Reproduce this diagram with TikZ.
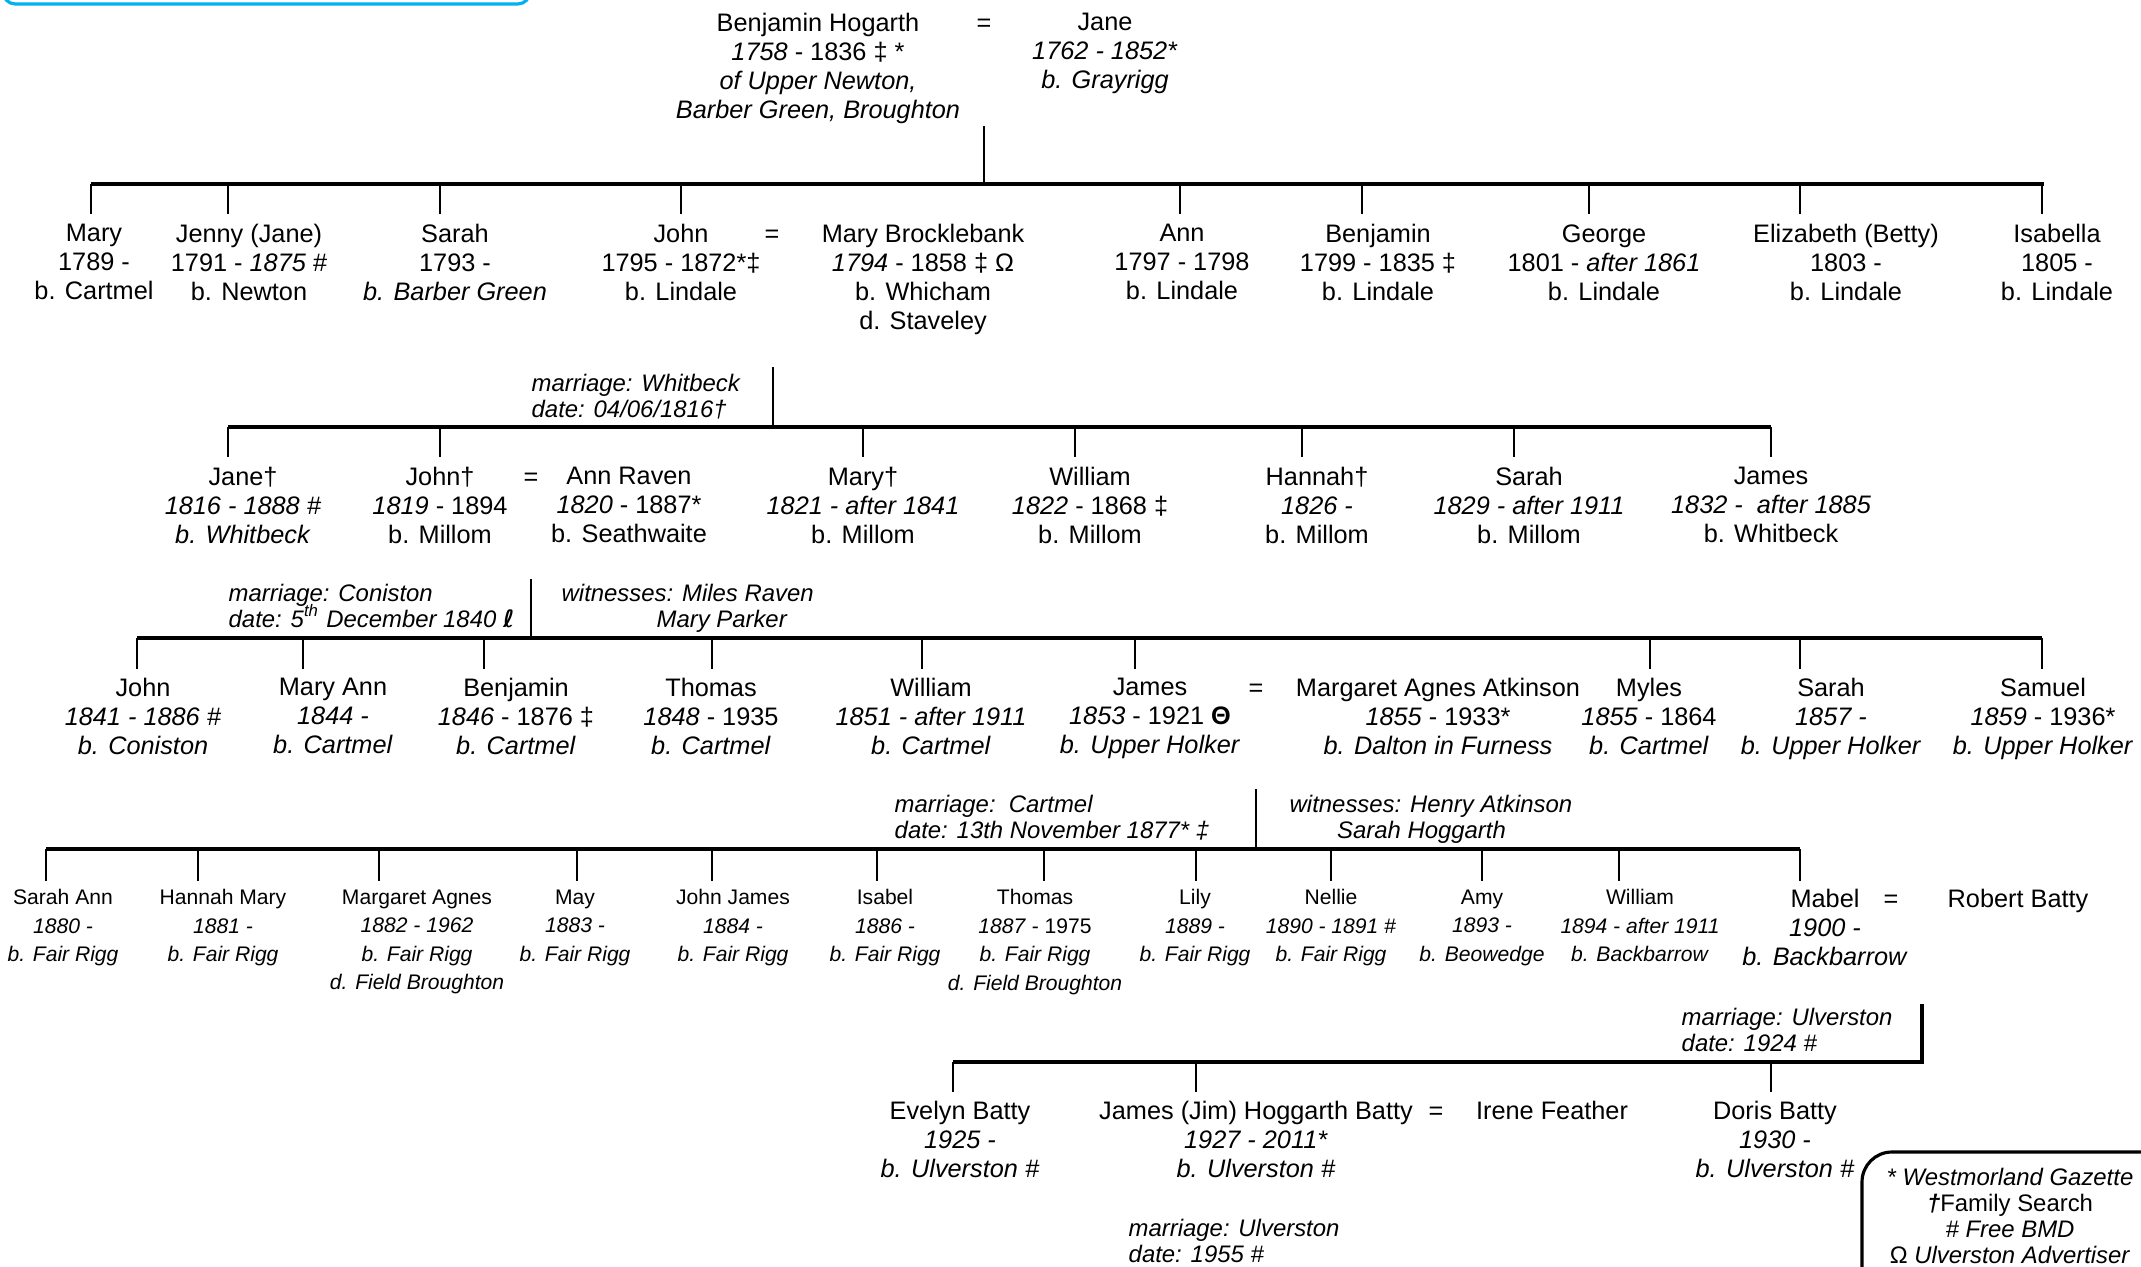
\documentclass[tikz,border=0pt]{standalone}
\usepackage{fontspec}
\setmainfont{Liberation Sans}
\newfontfamily\symfont{DejaVu Sans}
\usepackage{tikz}
\definecolor{boxblue}{RGB}{0,176,240}

\begin{document}
\begin{tikzpicture}
    [x=0.1mm,y=-0.1mm,
     person/.style={align=center,anchor=north,yshift=5.2pt,inner sep=0pt,font=\fontsize{7.2}{8.25}\selectfont},
     sign/.style={anchor=base,inner sep=0pt,font=\fontsize{7.2}{8.25}\selectfont},
     kid/.style={person,yshift=-0.9pt,font=\fontsize{6}{8.1}\selectfont},
     note/.style={align=left,anchor=north west,yshift=4.9pt,inner sep=0pt,font=\fontsize{6.8}{7.3}\selectfont\itshape},
     legend/.style={person,yshift=-0.3pt,font=\fontsize{6.8}{7.4}\selectfont},
     bar/.style={line width=1.1pt},
     drop/.style={line width=0.75pt}]
    \useasboundingbox (0,0) rectangle (2141,1266);
    \clip (0,0) rectangle (2141,1266);
    \draw[boxblue,line width=0.9pt,rounded corners=3.5pt] (3,-60) rectangle (530,4);
    % first generation
    \node[person] (benj) at (818,31) {Benjamin Hogarth\\\textit{1758} - 1836 ‡ *\\\textit{of Upper Newton,}\\\textit{Barber Green, Broughton}};
    \node[sign] (eq1) at (984,31) {=};
    \node[person] (jane) at (1105,31) {Jane\\\textit{1762 - 1852*}\\\textit{b. Grayrigg}};
    \coordinate (m1) at (984,126);
    \coordinate (bar1L) at (91,184);
    \coordinate (bar1R) at (2044,184);
    \draw[drop] (m1) -- (m1 |- bar1L);
    \draw[bar] (bar1L) -- (bar1R);
    \foreach \x [count=\i] in {91,228,440,681,1180,1362,1589,1800,2042}
      {\coordinate (d1-\i) at (\x,214); \draw[drop] (d1-\i |- bar1L) -- (d1-\i);}
    % second generation
    \node[person] (mary) at (94,242) {Mary\\1789 -\\b. Cartmel};
    \node[person] (jenny) at (249,242) {Jenny (Jane)\\1791 - \textit{1875} \#\\b. Newton};
    \node[person] (sarah) at (455,242) {Sarah\\1793 -\\\textit{b. Barber Green}};
    \node[person] (john) at (681,242) {John\\1795 - 1872*‡\\b. Lindale};
    \node[sign] (eq2) at (772,242) {=};
    \node[person] (maryb) at (923,242) {Mary Brocklebank\\\textit{1794} - 1858 ‡ Ω\\b. Whicham\\d. Staveley};
    \node[person] (ann) at (1182,242) {Ann\\1797 - 1798\\b. Lindale};
    \node[person] (benjamin) at (1378,242) {Benjamin\\1799 - 1835 ‡\\b. Lindale};
    \node[person] (george) at (1604,242) {George\\1801 - \textit{after 1861}\\b. Lindale};
    \node[person] (betty) at (1846,242) {Elizabeth (Betty)\\1803 -\\b. Lindale};
    \node[person] (isabella) at (2057,242) {Isabella\\1805 -\\b. Lindale};
    \coordinate (m2) at (773,367);
    \coordinate (bar2L) at (228,427);
    \coordinate (bar2R) at (1771,427);
    \node[note] (wed1) at (531,391) {marriage: Whitbeck\\date: 04/06/1816†};
    \draw[drop] (m2) -- (m2 |- bar2L);
    \draw[bar] (bar2L) -- (bar2R);
    \foreach \x [count=\i] in {228,440,863,1075,1302,1514,1771}
      {\coordinate (d2-\i) at (\x,457); \draw[drop] (d2-\i |- bar2L) -- (d2-\i);}
    % third generation
    \node[person] (jane2) at (243,485) {Jane†\\\textit{1816 - 1888 \#}\\\textit{b. Whitbeck}};
    \node[person] (john2) at (440,485) {John†\\\textit{1819} - 1894\\b. Millom};
    \node[sign] (eq3) at (531,485) {=};
    \node[person] (annr) at (629,485) {Ann Raven\\\textit{1820} - 1887*\\b. Seathwaite};
    \node[person] (mary2) at (863,485) {Mary†\\\textit{1821 - after 1841}\\b. Millom};
    \node[person] (william2) at (1090,485) {William\\\textit{1822} - 1868 ‡\\b. Millom};
    \node[person] (hannah2) at (1317,485) {Hannah†\\\textit{1826 -}\\b. Millom};
    \node[person] (sarah2) at (1529,485) {Sarah\\\textit{1829 - after 1911}\\b. Millom};
    \node[person] (james2) at (1771,485) {James\\\textit{1832 -\ \ after 1885}\\b. Whitbeck};
    \coordinate (m3) at (531,579);
    \coordinate (bar3L) at (137,638);
    \coordinate (bar3R) at (2042,638);
    \node[note] (wed2) at (228,601) {marriage: Coniston\\date: 5\smash{\textsuperscript{th}} December 1840 {\symfont\bfseries ℓ}};
    \node[note] (wit2) at (561,601) {witnesses: Miles Raven\\\hspace*{27pt}Mary Parker};
    \draw[drop] (m3) -- (m3 |- bar3L);
    \draw[bar] (bar3L) -- (bar3R);
    \foreach \x [count=\i] in {137,303,484,712,922,1135,1650,1800,2042}
      {\coordinate (d3-\i) at (\x,669); \draw[drop] (d3-\i |- bar3L) -- (d3-\i);}
    % fourth generation
    \node[person] (john3) at (143,696) {John\\\textit{1841 - 1886 \#}\\\textit{b. Coniston}};
    \node[person] (maryann3) at (333,696) {Mary Ann\\\textit{1844 -}\\\textit{b. Cartmel}};
    \node[person] (benjamin3) at (516,696) {Benjamin\\\textit{1846} - 1876 ‡\\\textit{b. Cartmel}};
    \node[person] (thomas3) at (711,696) {Thomas\\\textit{1848} - 1935\\\textit{b. Cartmel}};
    \node[person] (william3) at (931,696) {William\\\textit{1851 - after 1911}\\\textit{b. Cartmel}};
    \node[person] (james3) at (1150,696) {James\\\textit{1853} - 1921 \textbf{Θ}\\\textit{b. Upper Holker}};
    \node[sign] (eq4) at (1256,696) {=};
    \node[person] (margaret3) at (1438,696) {Margaret Agnes Atkinson\\\textit{1855} - 1933*\\\textit{b. Dalton in Furness}};
    \node[person] (myles3) at (1649,696) {Myles\\\textit{1855} - 1864\\\textit{b. Cartmel}};
    \node[person] (sarah3) at (1831,696) {Sarah\\\textit{1857 -}\\\textit{b. Upper Holker}};
    \node[person] (samuel3) at (2043,696) {Samuel\\\textit{1859} - 1936*\\\textit{b. Upper Holker}};
    \coordinate (m4) at (1256,789);
    \coordinate (bar4L) at (46,849);
    \coordinate (bar4R) at (1800,849);
    \node[note] (wed3) at (894,812) {marriage:\ \ Cartmel\\date: 13th November 1877* ‡};
    \node[note] (wit3) at (1289,812) {witnesses: Henry Atkinson\\\hspace*{13.5pt}Sarah Hoggarth};
    \draw[drop] (m4) -- (m4 |- bar4L);
    \draw[bar] (bar4L) -- (bar4R);
    \foreach \x [count=\i] in {46,198,379,577,712,877,1044,1196,1331,1482,1619,1800}
      {\coordinate (d4-\i) at (\x,881); \draw[drop] (d4-\i |- bar4L) -- (d4-\i);}
    % fifth generation
    \node[kid] (sarahann4) at (63,904) {Sarah Ann\\\textit{1880 -}\\\textit{b. Fair Rigg}};
    \node[kid] (hannah4) at (223,904) {Hannah Mary\\\textit{1881 -}\\\textit{b. Fair Rigg}};
    \node[kid] (margaret4) at (417,904) {Margaret Agnes\\\textit{1882 - 1962}\\\textit{b. Fair Rigg}\\\textit{d. Field Broughton}};
    \node[kid] (may4) at (575,904) {May\\\textit{1883 -}\\\textit{b. Fair Rigg}};
    \node[kid] (johnjames4) at (733,904) {John James\\\textit{1884 -}\\\textit{b. Fair Rigg}};
    \node[kid] (isabel4) at (885,904) {Isabel\\\textit{1886 -}\\\textit{b. Fair Rigg}};
    \node[kid] (thomas4) at (1035,904) {Thomas\\\textit{1887} - 1975\\\textit{b. Fair Rigg}\\\textit{d. Field Broughton}};
    \node[kid] (lily4) at (1195,904) {Lily\\\textit{1889 -}\\\textit{b. Fair Rigg}};
    \node[kid] (nellie4) at (1331,904) {Nellie\\\textit{1890 - 1891 \#}\\\textit{b. Fair Rigg}};
    \node[kid] (amy4) at (1482,904) {Amy\\\textit{1893 -}\\\textit{b. Beowedge}};
    \node[kid] (william4) at (1640,904) {William\\\textit{1894 - after 1911}\\\textit{b. Backbarrow}};
    \node[person] (mabel4) at (1825,907) {Mabel\\\textit{1900 -}\\\textit{b. Backbarrow}};
    \node[sign] (eq5) at (1891,907) {=};
    \node[sign] (robert4) at (2018,907) {Robert Batty};
    \coordinate (m5) at (1922,1004);
    \coordinate (bar5L) at (953,1062);
    \coordinate (bar5R) at (1922,1062);
    \node[note] (wed4) at (1681,1025) {marriage: Ulverston\\date: 1924 \#};
    \draw[bar] (m5) -- (bar5R) -- (bar5L);
    \foreach \x [count=\i] in {953,1196,1771}
      {\coordinate (d5-\i) at (\x,1092); \draw[drop] (d5-\i |- bar5L) -- (d5-\i);}
    % sixth generation
    \node[person] (evelyn5) at (960,1119) {Evelyn Batty\\\textit{1925 -}\\\textit{b. Ulverston \#}};
    \node[person] (jim5) at (1256,1119) {James (Jim) Hoggarth Batty\\\textit{1927 - 2011*}\\\textit{b. Ulverston \#}};
    \node[sign] (eq6) at (1436,1119) {=};
    \node[sign] (irene5) at (1552,1119) {Irene Feather};
    \node[person] (doris5) at (1775,1119) {Doris Batty\\\textit{1930 -}\\\textit{b. Ulverston \#}};
    \node[note] (wed5) at (1128,1236) {marriage: Ulverston\\date: 1955 \#};
    % sources
    \draw[line width=0.9pt,rounded corners=8.5pt] (1862,1152) rectangle (2260,1360);
    \node[legend] (key) at (2010,1185) {\textit{* Westmorland Gazette}\\\textbf{\textit{†}}Family Search\\\textit{\# Free BMD}\\Ω \textit{Ulverston Advertiser}};
\end{tikzpicture}
\end{document}
